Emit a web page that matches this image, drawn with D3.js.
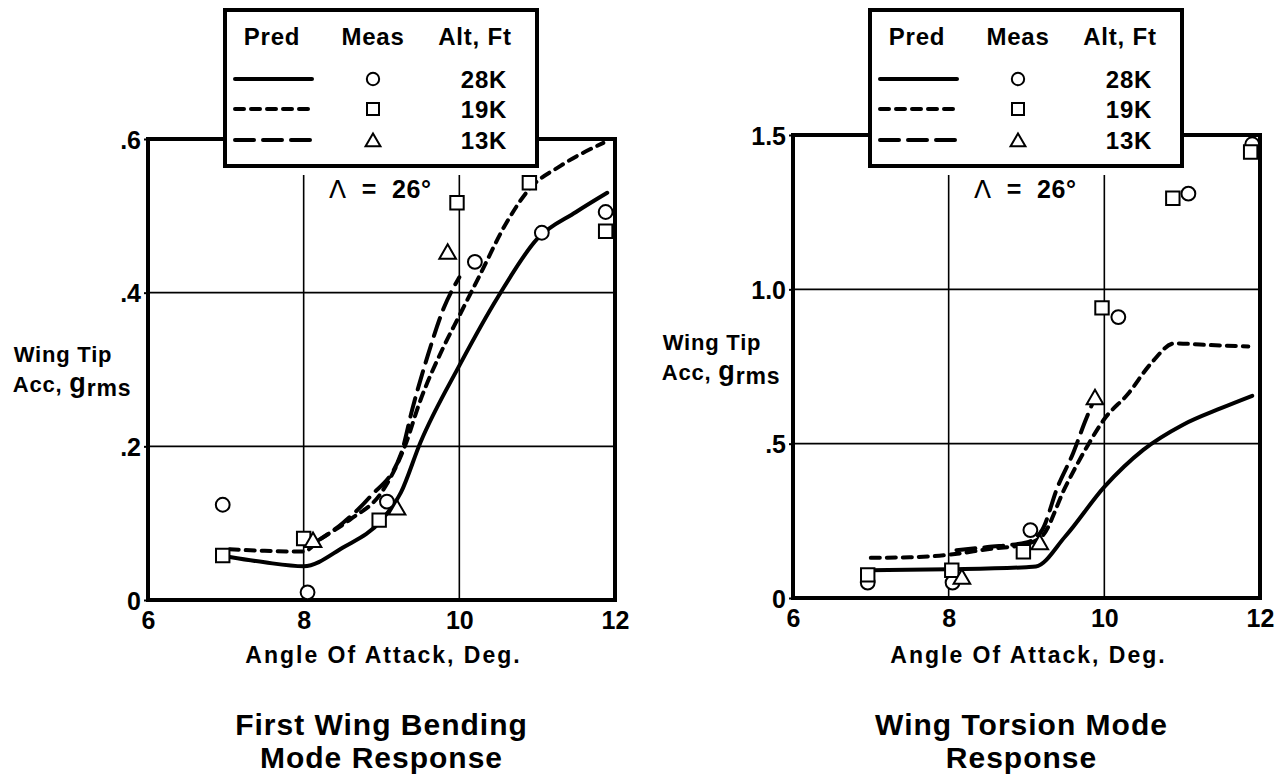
<!DOCTYPE html>
<html>
<head>
<meta charset="utf-8">
<script src="https://cdn.jsdelivr.net/npm/d3@7"></script>
<style>
  body { margin: 0; background: #fff; }
  svg { display: block; }
  text { font-family: "Liberation Sans", Arial, sans-serif; font-weight: bold; fill: #000; }
</style>
</head>
<body>
<svg id="chart" width="1285" height="778"></svg>
<script>
// altitudes / legend
const altitudes = ["28K", "19K", "13K"];
const xTicks = [6, 8, 10, 12];

// first wing bending mode
const bendYTicks = [0, 0.2, 0.4, 0.6];
const bendYLabels = ["0", ".2", ".4", ".6"];
const bendPred28 = [[7.05, 0.056], [7.5, 0.049], [8.0, 0.044], [8.5, 0.068], [9.0, 0.104], [9.25, 0.14], [9.5, 0.205], [10.0, 0.305], [10.5, 0.395], [11.0, 0.47], [11.5, 0.505], [11.9, 0.53]];
const bendPred19 = [[7.05, 0.066], [7.5, 0.064], [8.0, 0.063], [8.2, 0.078], [8.6, 0.105], [9.0, 0.14], [9.3, 0.2], [9.5, 0.26], [9.8, 0.33], [10.0, 0.37], [10.25, 0.42], [10.6, 0.49], [10.9, 0.535], [11.3, 0.565], [11.85, 0.595]];
const bendPred13 = [[8.1, 0.072], [8.5, 0.1], [8.85, 0.134], [9.25, 0.19], [9.4, 0.25], [9.6, 0.32], [9.8, 0.38], [10.0, 0.42]];
const bendMeas28 = [[6.96, 0.124], [8.05, 0.01], [9.07, 0.128], [10.2, 0.44], [11.06, 0.478], [11.88, 0.505]];
const bendMeas19 = [[6.96, 0.058], [8.0, 0.08], [8.97, 0.104], [9.97, 0.517], [10.9, 0.543], [11.88, 0.48]];
const bendMeas13 = [[8.12, 0.078], [9.2, 0.12], [9.85, 0.453]];

// wing torsion mode
const torsYTicks = [0, 0.5, 1.0, 1.5];
const torsYLabels = ["0", ".5", "1.0", "1.5"];
const torsPred28 = [[7.0, 0.09], [8.0, 0.093], [9.0, 0.1], [9.12, 0.102], [9.5, 0.2], [10.0, 0.36], [10.5, 0.48], [11.0, 0.56], [11.5, 0.615], [11.9, 0.655]];
const torsPred19 = [[7.0, 0.13], [7.5, 0.132], [8.0, 0.14], [8.5, 0.158], [9.0, 0.175], [9.2, 0.2], [9.5, 0.36], [9.8, 0.5], [10.0, 0.58], [10.3, 0.66], [10.6, 0.76], [10.9, 0.825], [11.3, 0.82], [11.85, 0.815]];
const torsPred13 = [[8.1, 0.155], [8.5, 0.165], [9.0, 0.18], [9.2, 0.22], [9.4, 0.36], [9.6, 0.47], [9.75, 0.57], [9.88, 0.65]];
const torsMeas28 = [[6.96, 0.05], [8.05, 0.05], [9.05, 0.22], [10.18, 0.91], [11.08, 1.31], [11.9, 1.47]];
const torsMeas19 = [[6.96, 0.075], [8.04, 0.09], [8.96, 0.15], [9.97, 0.94], [10.88, 1.295], [11.88, 1.445]];
const torsMeas13 = [[8.17, 0.068], [9.17, 0.18], [9.88, 0.65]];

const svg = d3.select("#chart");

const dashes = [null, "9,7", "19,9"];
const symbols = [d3.symbolCircle, d3.symbolSquare, d3.symbolTriangle];
const symSizes = [150, 180, 120];

function drawPanel(opt) {
  const g = svg.append("g");
  const x = d3.scaleLinear().domain([6, 12]).range([opt.x0, opt.x1]);
  const y = d3.scaleLinear().domain([0, opt.yMax]).range([opt.yBot, opt.yTop]);

  // grid
  g.selectAll(".vgrid").data([8, 10]).join("line")
    .attr("x1", d => x(d)).attr("x2", d => x(d))
    .attr("y1", opt.gridTop).attr("y2", opt.yBot)
    .attr("stroke", "#000").attr("stroke-width", 1.6);
  g.selectAll(".hgrid").data(opt.yTicks.slice(1, -1)).join("line")
    .attr("x1", opt.x0).attr("x2", opt.x1)
    .attr("y1", d => y(d)).attr("y2", d => y(d))
    .attr("stroke", "#000").attr("stroke-width", 1.6);

  // axes
  const xAxis = g.append("g")
    .attr("transform", `translate(0,${opt.yBot})`)
    .call(d3.axisBottom(x).tickValues(xTicks).tickFormat(d3.format("d")).tickSize(0).tickPadding(8));
  const yAxis = g.append("g")
    .attr("transform", `translate(${opt.x0},0)`)
    .call(d3.axisLeft(y).tickValues(opt.yTicks).tickSize(4).tickPadding(3)
      .tickFormat((d, i) => opt.yLabels[i]));
  [xAxis, yAxis].forEach(a => {
    a.select(".domain").remove();
    a.selectAll("text").attr("font-size", 25).attr("font-family", "Liberation Sans, Arial, sans-serif")
      .attr("font-weight", "bold").attr("fill", "#000");
    a.selectAll("line").attr("stroke", "#000").attr("stroke-width", 2);
  });
  xAxis.selectAll("text").attr("dy", "0.85em");
  yAxis.selectAll("text").attr("dy", "0.36em");

  // frame (top edge broken by legend box)
  g.append("path")
    .attr("d", `M${opt.legX0},${opt.yTop}H${opt.x0}V${opt.yBot}H${opt.x1}V${opt.yTop}H${opt.legX1}`)
    .attr("fill", "none").attr("stroke", "#000").attr("stroke-width", 4);

  // predicted curves
  const line = d3.line().x(d => x(d[0])).y(d => y(d[1])).curve(d3.curveMonotoneX);
  opt.pred.forEach((p, i) => {
    g.append("path").datum(p).attr("d", line)
      .attr("fill", "none").attr("stroke", "#000").attr("stroke-width", 4)
      .attr("stroke-dasharray", dashes[i]).attr("stroke-linecap", "round");
  });

  // measured points
  opt.meas.forEach((m, i) => {
    g.selectAll(null).data(m).join("path")
      .attr("transform", d => `translate(${x(d[0])},${y(d[1]) + (i === 2 ? 2 : 0)})`)
      .attr("d", d3.symbol().type(symbols[i]).size(symSizes[i]))
      .attr("fill", "#fff").attr("stroke", "#000").attr("stroke-width", 2);
  });

  // legend
  const lg = g.append("g").attr("transform", `translate(${opt.legX0},0)`);
  lg.append("rect").attr("x", 0).attr("y", 10).attr("width", opt.legX1 - opt.legX0).attr("height", 156)
    .attr("fill", "#fff").attr("stroke", "#000").attr("stroke-width", 4);
  const heads = [["Pred", 47], ["Meas", 148], ["Alt, Ft", 250]];
  lg.selectAll(".head").data(heads).join("text")
    .attr("x", d => d[1]).attr("y", 45).attr("text-anchor", "middle")
    .attr("font-size", 24).attr("letter-spacing", 0.8).text(d => d[0]);
  const rowY = [79, 109, 140];
  altitudes.forEach((a, i) => {
    lg.append("line").attr("x1", 10).attr("x2", 87).attr("y1", rowY[i]).attr("y2", rowY[i])
      .attr("stroke", "#000").attr("stroke-width", 4).attr("stroke-dasharray", dashes[i])
      .attr("stroke-linecap", "round");
    lg.append("path").attr("transform", `translate(148,${rowY[i] + (i === 2 ? 2 : 0)})`)
      .attr("d", d3.symbol().type(symbols[i]).size(symSizes[i] * 0.8))
      .attr("fill", "#fff").attr("stroke", "#000").attr("stroke-width", 2);
    lg.append("text").attr("x", 259).attr("y", rowY[i] + 9).attr("text-anchor", "middle")
      .attr("font-size", 24).attr("letter-spacing", 0.8).text(a);
  });

  // sweep annotation
  g.append("text").attr("x", opt.x0 + 181).attr("y", 198).attr("font-size", 25)
    .attr("xml:space", "preserve").attr("letter-spacing", 0.6)
    .html('<tspan font-weight="normal" font-family="DejaVu Sans">Λ</tspan>  =  26°');

  // y label
  g.append("text").attr("x", opt.labX).attr("y", opt.labY).attr("text-anchor", "middle")
    .attr("font-size", 22).attr("letter-spacing", 0.8).text("Wing Tip");
  g.append("text").attr("x", opt.labX + 9).attr("y", opt.labY + 30).attr("text-anchor", "middle")
    .attr("font-size", 22).attr("letter-spacing", 0.8)
    .html('Acc, <tspan font-size="27">g</tspan><tspan font-size="23" dy="4">rms</tspan>');

  // x label
  g.append("text").attr("x", (opt.x0 + opt.x1) / 2 + 2).attr("y", 663).attr("text-anchor", "middle")
    .attr("font-size", 23).attr("letter-spacing", 2).text("Angle Of Attack, Deg.");

  // title
  g.selectAll(".title").data(opt.title).join("text")
    .attr("x", (opt.x0 + opt.x1) / 2 + opt.titleDx).attr("y", (d, i) => 735 + i * 33)
    .attr("text-anchor", "middle").attr("font-size", 30).attr("letter-spacing", 1).text(d => d);
}

drawPanel({
  x0: 148, x1: 615, yBot: 600, yTop: 139, yMax: 0.6, gridTop: 175,
  yTicks: bendYTicks, yLabels: bendYLabels,
  legX0: 225, legX1: 537,
  pred: [bendPred28, bendPred19, bendPred13],
  meas: [bendMeas28, bendMeas19, bendMeas13],
  labX: 63, labY: 362,
  title: ["First Wing Bending", "Mode Response"], titleDx: 0
});

drawPanel({
  x0: 793, x1: 1260, yBot: 598, yTop: 135, yMax: 1.5, gridTop: 175,
  yTicks: torsYTicks, yLabels: torsYLabels,
  legX0: 870, legX1: 1182,
  pred: [torsPred28, torsPred19, torsPred13],
  meas: [torsMeas28, torsMeas19, torsMeas13],
  labX: 712, labY: 350,
  title: ["Wing Torsion Mode", "Response"], titleDx: -5
});
</script>
</body>
</html>
